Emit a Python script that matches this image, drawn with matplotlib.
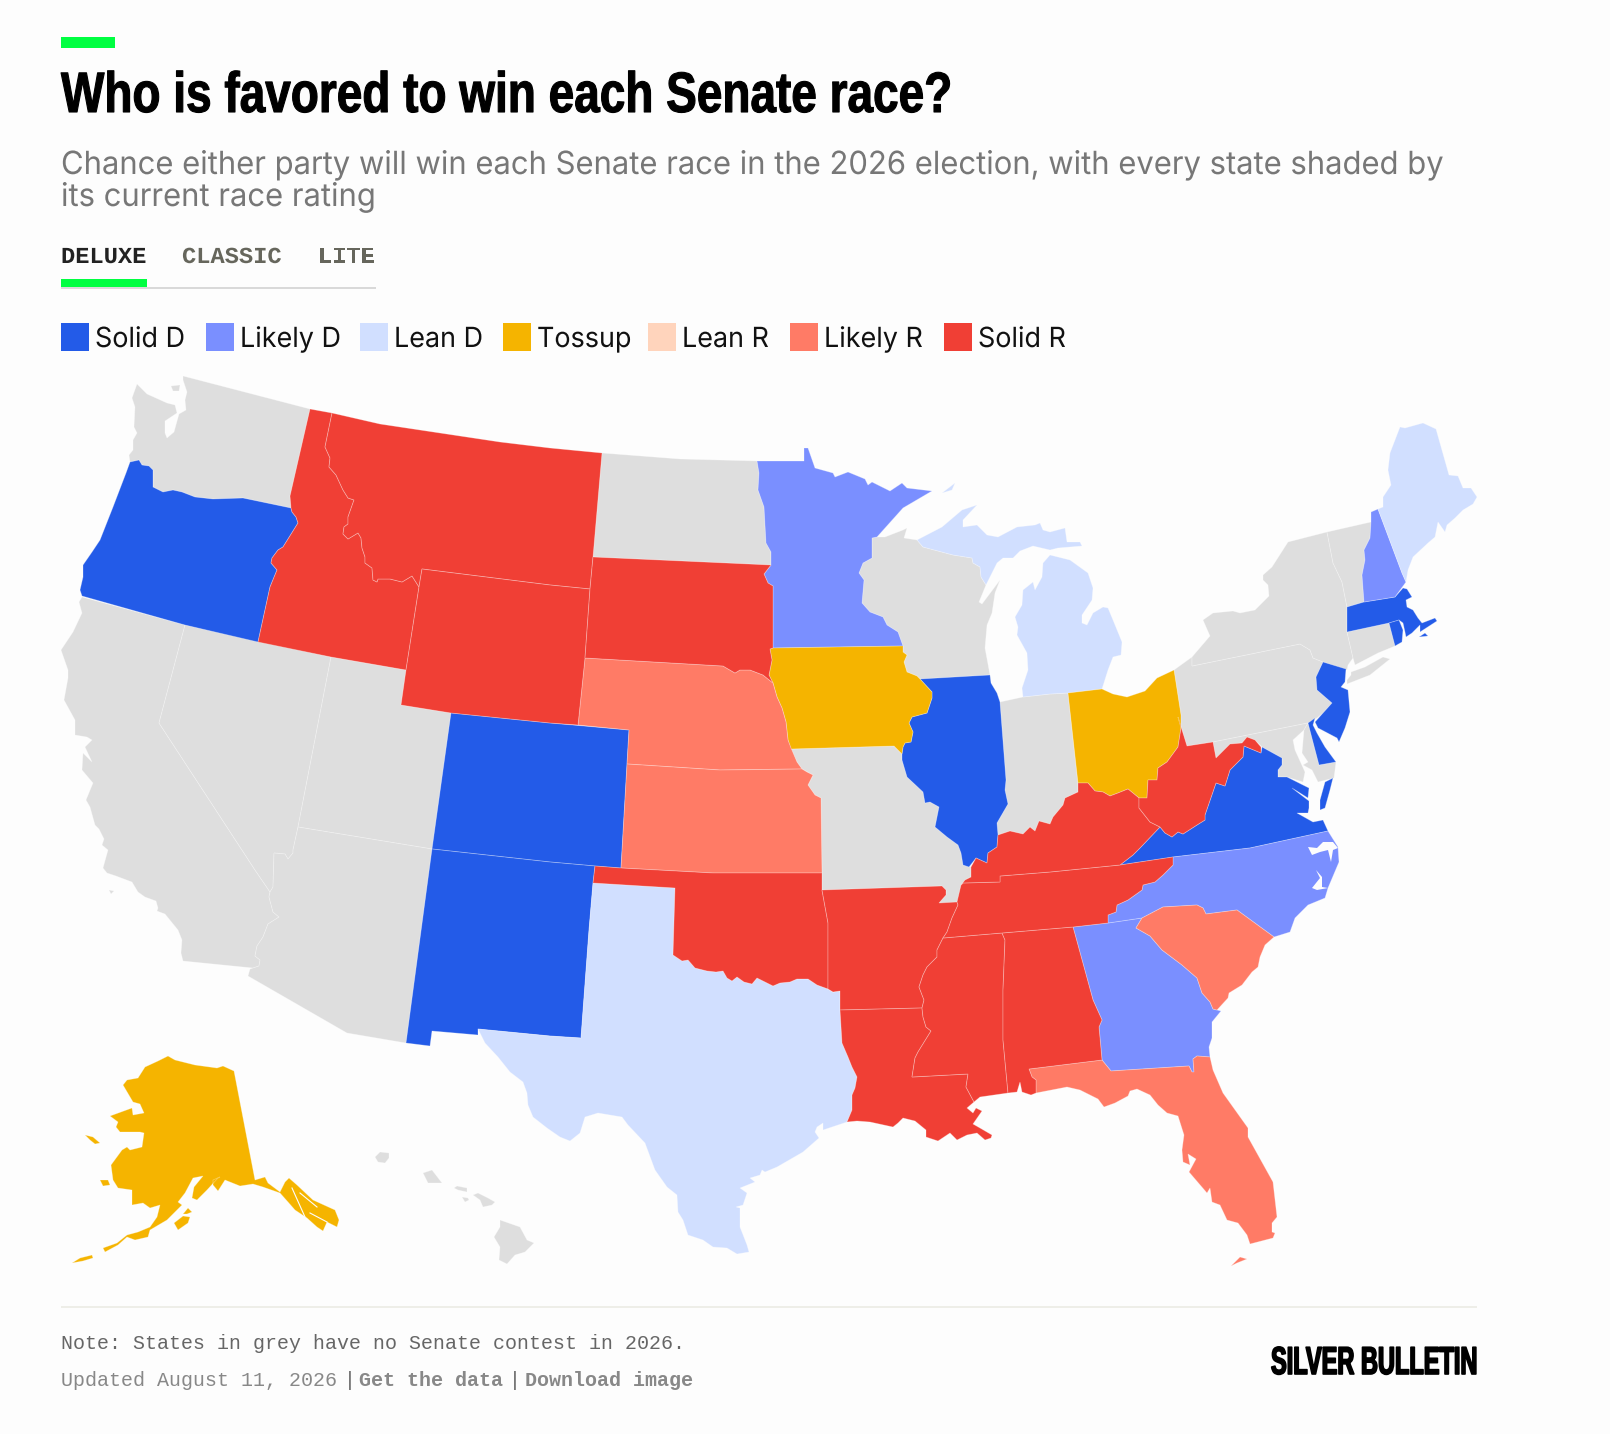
from matplotlib import pyplot as plt
from matplotlib.patches import Rectangle
from matplotlib.patheffects import AbstractPathEffect
from matplotlib.transforms import Affine2D

# rating categories for the legend
ratings = ["Solid D", "Likely D", "Lean D", "Tossup", "Lean R", "Likely R", "Solid R"]
rating_colors = ["#235BE8", "#7A8FFF", "#D1DFFF", "#F5B400", "#FFD4BC", "#FF7B66", "#F03F35"]
no_race_color = "#DEDEDE"
page_color = "#FDFDFD"

# state outlines, one list per island/part
WA = [[(183,376),(310,409),(290,496),(291,508),(243,498),(213,499),(195,497),(182,492),(173,490),(163,492),(153,487),(153,470),(149,466),(142,465),(139,460),(130,462),(129,455),(133,450),(133,440),(137,433),(134,427),(135,407),(132,398),(137,384),(147,394),(167,403),(175,405),(177,413),(165,421),(165,433),(167,438),(174,432),(179,414),(186,410),(185,400),(187,392),(183,380)],
      [(171,386),(180,385),(179,391),(173,391)]]
OR = [[(130,462),(126,473),(113,507),(100,540),(92,552),(83,565),(83,577),(80,590),(82,596),(185,625),(258,642),(270,587),(277,570),(271,563),(272,558),(278,550),(283,547),(298,523),(296,517),(292,512),(291,508),(243,498),(213,499),(195,497),(182,492),(173,490),(163,492),(153,487),(153,470),(149,466),(142,465),(139,460)]]
CA = [[(82,597),(185,625),(159,723),(255,870),(270,892),(269,897),(273,912),(279,917),(268,924),(263,937),(257,946),(255,956),(260,960),(259,966),(253,968),(183,961),(181,953),(182,940),(178,930),(165,914),(157,911),(158,908),(156,901),(145,897),(138,892),(132,882),(116,876),(107,873),(103,868),(108,850),(102,845),(104,839),(99,829),(95,825),(90,807),(86,800),(93,783),(82,770),(83,753),(92,762),(85,747),(92,740),(87,737),(75,735),(75,720),(64,700),(68,678),(68,670),(61,650),(73,632),(82,613),(79,602)],
      [(109,890),(114,891),(111,894)]]
NV = [[(185,625),(331,657),(298,827),(293,850),(293,853),(288,859),(285,854),(274,853),(273,887),(270,892),(255,870),(159,723)]]
ID = [[(310,409),(332,413),(325,447),(330,458),(329,467),(336,475),(343,490),(348,498),(354,500),(348,517),(348,524),(344,527),(343,534),(348,539),(358,533),(361,538),(362,548),(365,557),(365,563),(372,568),(373,580),(377,582),(378,579),(390,579),(402,582),(412,576),(419,587),(406,670),(331,657),(258,642),(270,587),(277,570),(271,563),(272,558),(278,550),(283,547),(298,523),(296,517),(292,512),(291,508),(290,496)]]
MT = [[(332,413),(380,424),(440,433),(500,442),(550,448),(602,453),(593,557),(590,589),(550,585),(422,569),(419,587),(412,576),(402,582),(390,579),(378,579),(377,582),(373,580),(372,568),(365,563),(365,557),(362,548),(361,538),(358,533),(348,539),(343,534),(344,527),(348,524),(348,517),(354,500),(348,498),(343,490),(336,475),(329,467),(330,458),(325,447)]]
WY = [[(422,569),(550,585),(590,589),(585,658),(578,725),(550,723),(451,713),(401,705),(406,670),(419,587)]]
UT = [[(331,657),(406,670),(401,705),(451,713),(432,849),(298,827)]]
AZ = [[(298,827),(432,849),(406,1043),(347,1033),(248,976),(250,969),(253,968),(259,966),(260,960),(255,956),(257,946),(263,937),(268,924),(279,917),(273,912),(269,897),(270,892),(273,887),(274,853),(285,854),(288,859),(293,853),(293,850)]]
CO = [[(451,713),(550,723),(629,730),(621,868),(595,866),(550,862),(432,849)]]
NM = [[(432,849),(550,862),(595,866),(593,883),(589,930),(581,1038),(550,1036),(478,1029),(478,1035),(432,1031),(430,1046),(406,1043)]]
ND = [[(602,453),(680,459),(757,461),(759,473),(758,490),(764,507),(766,543),(771,552),(771,565),(593,557)]]
SD = [[(593,557),(771,565),(764,574),(768,583),(773,586),(773,648),(770,649),(772,660),(769,675),(773,683),(763,675),(750,670),(740,670),(735,673),(723,666),(585,658),(590,589)]]
NE = [[(585,658),(723,666),(735,673),(740,670),(750,670),(763,675),(773,683),(777,697),(782,708),(786,722),(788,740),(791,748),(797,762),(802,769),(720,770),(627,764),(629,730),(578,725)]]
KS = [[(627,764),(720,770),(802,769),(807,772),(813,775),(808,785),(815,795),(821,798),(822,873),(713,873),(621,868)]]
OK = [[(595,866),(621,868),(713,873),(822,873),(822,890),(828,923),(828,989),(833,992),(840,991),(833,992),(828,989),(817,985),(808,979),(797,979),(790,982),(780,983),(773,986),(767,983),(757,978),(752,984),(744,982),(737,977),(732,981),(727,978),(723,971),(716,972),(707,971),(695,968),(688,960),(682,961),(673,955),(675,888),(593,883)]]
TX = [[(478,1029),(550,1036),(581,1038),(589,930),(593,883),(675,888),(673,955),(682,961),(688,960),(695,968),(707,971),(716,972),(723,971),(727,978),(732,981),(737,977),(744,982),(752,984),(757,978),(767,983),(773,986),(780,983),(790,982),(797,979),(808,979),(817,985),(828,989),(833,992),(840,991),(840,1010),(842,1043),(848,1057),(852,1067),(857,1077),(855,1088),(852,1095),(852,1110),(847,1122),(823,1130),(823,1123),(817,1127),(815,1132),(819,1138),(803,1152),(777,1167),(765,1172),(762,1170),(760,1175),(750,1178),(755,1182),(740,1188),(747,1193),(743,1205),(736,1207),(740,1208),(740,1227),(747,1245),(749,1252),(737,1254),(727,1248),(713,1247),(703,1240),(688,1235),(683,1220),(678,1212),(677,1195),(667,1187),(655,1170),(645,1143),(628,1125),(622,1117),(598,1113),(585,1117),(580,1133),(570,1141),(560,1137),(547,1128),(533,1117),(528,1105),(527,1093),(523,1082),(510,1072),(498,1057),(485,1043)]]
MN = [[(757,461),(804,461),(804,448),(808,448),(815,468),(833,473),(835,477),(848,472),(865,479),(868,485),(872,482),(890,491),(902,483),(907,488),(932,491),(903,508),(877,537),(872,538),(872,558),(863,563),(859,573),(864,580),(862,603),(870,612),(883,617),(887,625),(898,632),(903,646),(773,648),(773,586),(768,583),(764,574),(771,565),(771,552),(766,543),(764,507),(758,490),(759,473)]]
IA = [[(770,649),(773,648),(903,646),(903,652),(907,655),(904,662),(907,672),(917,676),(920,679),(932,692),(932,698),(927,713),(912,717),(909,723),(913,732),(911,742),(905,743),(903,747),(902,754),(894,746),(791,749),(788,740),(786,722),(782,708),(777,697),(773,683),(769,675),(772,660)]]
MO = [[(791,749),(894,746),(902,754),(902,760),(907,777),(923,792),(925,803),(930,802),(939,807),(935,827),(947,837),(958,845),(961,853),(963,865),(971,867),(971,877),(965,880),(961,885),(957,903),(939,903),(946,895),(946,890),(942,886),(822,890),(822,873),(821,798),(815,795),(808,785),(813,775),(802,769),(797,762)]]
AR = [[(822,890),(942,886),(946,890),(946,895),(939,903),(957,902),(958,905),(952,918),(947,932),(943,938),(937,950),(937,957),(927,967),(923,975),(919,987),(924,1000),(922,1008),(840,1010),(840,991),(833,992),(828,989),(828,923)]]
LA = [[(840,1010),(922,1008),(923,1017),(926,1027),(931,1031),(918,1052),(915,1058),(912,1077),(968,1074),(966,1087),(974,1102),(967,1108),(973,1113),(976,1108),(982,1111),(973,1124),(980,1128),(992,1135),(991,1138),(985,1140),(977,1133),(967,1135),(957,1140),(950,1133),(938,1141),(926,1137),(926,1130),(915,1121),(903,1118),(898,1123),(893,1127),(870,1122),(857,1121),(847,1122),(852,1110),(852,1095),(855,1088),(857,1077),(852,1067),(848,1057),(842,1043)]]
WI = [[(872,538),(877,537),(885,537),(903,530),(907,528),(904,538),(917,540),(923,547),(953,555),(972,558),(973,563),(980,567),(981,577),(986,585),(979,602),(982,604),(1000,580),(995,593),(992,613),(987,625),(985,648),(990,675),(920,679),(917,676),(907,672),(904,662),(907,655),(903,652),(903,646),(898,632),(887,625),(883,617),(870,612),(862,603),(864,580),(859,573),(863,563),(872,558)]]
MI = [[(917,540),(923,547),(953,555),(972,558),(973,563),(980,567),(981,577),(986,585),(997,563),(1003,558),(1013,558),(1020,551),(1033,546),(1050,550),(1058,548),(1082,546),(1080,542),(1067,542),(1065,528),(1050,532),(1043,530),(1040,523),(1035,525),(1017,527),(998,537),(987,535),(977,525),(963,527),(963,520),(977,505),(962,510),(942,527)],
      [(1050,555),(1070,560),(1088,573),(1093,588),(1092,600),(1082,615),(1082,623),(1087,625),(1093,613),(1103,607),(1108,608),(1113,620),(1122,642),(1121,655),(1113,657),(1108,670),(1102,689),(1068,693),(1050,694),(1023,697),(1022,688),(1028,670),(1027,653),(1017,635),(1018,627),(1015,617),(1022,605),(1023,590),(1033,582),(1035,590),(1042,577),(1043,563)],
      [(942,493),(955,483),(952,490)]]
IL = [[(920,679),(990,675),(991,683),(997,693),(1000,702),(1006,780),(1005,790),(1008,804),(997,823),(998,835),(997,847),(988,853),(987,863),(976,858),(969,867),(963,865),(961,853),(958,845),(947,837),(935,827),(939,807),(930,802),(925,803),(923,792),(907,777),(902,760),(902,754),(903,747),(905,743),(911,742),(913,732),(909,723),(912,717),(927,713),(932,698),(932,692)]]
IN = [[(1000,702),(1023,697),(1050,694),(1068,693),(1078,783),(1078,792),(1065,798),(1063,805),(1053,817),(1050,824),(1039,821),(1035,831),(1030,827),(1023,834),(1010,831),(998,835),(997,823),(1008,804),(1005,790),(1006,780)]]
OH = [[(1068,693),(1102,689),(1113,694),(1127,697),(1145,691),(1157,678),(1174,670),(1181,715),(1181,728),(1178,747),(1167,762),(1158,768),(1157,780),(1148,780),(1147,798),(1139,798),(1128,789),(1118,793),(1110,796),(1103,792),(1095,791),(1088,783),(1078,783)]]
KY = [[(961,885),(965,880),(971,877),(971,867),(976,858),(987,863),(988,853),(997,847),(998,835),(1010,831),(1023,834),(1030,827),(1035,831),(1039,821),(1050,824),(1053,817),(1063,805),(1065,798),(1078,792),(1078,783),(1088,783),(1095,791),(1103,792),(1110,796),(1118,793),(1128,789),(1139,798),(1139,808),(1150,822),(1160,827),(1140,848),(1133,855),(1120,865),(1050,872),(1000,876),(1000,882),(963,883)]]
TN = [[(961,885),(963,883),(1000,882),(1000,876),(1050,872),(1120,865),(1173,857),(1173,865),(1163,875),(1155,882),(1143,885),(1142,890),(1128,900),(1117,905),(1116,912),(1108,915),(1108,923),(1073,927),(1002,933),(943,938),(947,932),(952,918),(958,905),(957,902)]]
MS = [[(943,938),(1002,933),(1005,940),(1003,990),(1003,1040),(1008,1093),(980,1097),(974,1102),(966,1087),(968,1074),(912,1077),(915,1058),(918,1052),(931,1031),(926,1027),(923,1017),(922,1008),(924,1000),(919,987),(923,975),(927,967),(937,957),(937,950)]]
AL = [[(1002,933),(1073,927),(1093,1000),(1102,1020),(1099,1027),(1102,1060),(1029,1069),(1032,1077),(1036,1080),(1036,1093),(1031,1095),(1022,1092),(1020,1082),(1017,1092),(1008,1093),(1003,1040),(1003,990),(1005,940)]]
FL = [[(1029,1069),(1102,1060),(1111,1071),(1189,1066),(1192,1072),(1194,1072),(1193,1059),(1197,1056),(1210,1057),(1213,1070),(1223,1093),(1248,1128),(1248,1137),(1273,1182),(1277,1217),(1272,1223),(1272,1232),(1275,1233),(1273,1238),(1250,1244),(1247,1235),(1238,1223),(1227,1220),(1220,1205),(1212,1202),(1210,1188),(1207,1193),(1189,1172),(1196,1159),(1188,1154),(1190,1165),(1183,1162),(1182,1150),(1184,1135),(1178,1116),(1167,1113),(1158,1105),(1150,1095),(1137,1089),(1130,1091),(1128,1096),(1115,1103),(1104,1107),(1098,1099),(1080,1090),(1067,1087),(1036,1093),(1036,1080),(1032,1077)],
      [(1231,1266),(1240,1257),(1247,1259),(1237,1263)]]
GA = [[(1073,927),(1108,923),(1142,918),(1136,928),(1150,936),(1162,950),(1182,965),(1197,978),(1202,993),(1210,1002),(1213,1009),(1221,1011),(1212,1022),(1212,1038),(1209,1047),(1210,1057),(1197,1056),(1193,1059),(1194,1072),(1192,1072),(1189,1066),(1111,1071),(1102,1060),(1099,1027),(1102,1020),(1093,1000)]]
SC = [[(1142,918),(1163,907),(1197,905),(1203,908),(1206,914),(1237,910),(1274,937),(1265,945),(1260,957),(1258,967),(1252,972),(1242,985),(1229,993),(1228,998),(1217,1010),(1213,1009),(1210,1002),(1202,993),(1197,978),(1182,965),(1162,950),(1150,936),(1136,928)]]
NC = [[(1173,857),(1250,848),(1328,831),(1338,847),(1339,862),(1328,888),(1325,898),(1308,905),(1295,918),(1290,932),(1274,937),(1237,910),(1206,914),(1203,908),(1197,905),(1163,907),(1142,918),(1108,923),(1108,915),(1116,912),(1117,905),(1128,900),(1142,890),(1143,885),(1155,882),(1163,875),(1173,865)]]
VA = [[(1120,865),(1133,855),(1140,848),(1160,827),(1165,833),(1172,837),(1178,832),(1183,834),(1197,825),(1205,820),(1205,815),(1216,783),(1225,786),(1230,770),(1243,757),(1244,746),(1261,753),(1262,747),(1282,758),(1282,765),(1278,770),(1278,777),(1287,777),(1309,788),(1308,798),(1292,788),(1309,801),(1309,808),(1308,813),(1297,813),(1313,822),(1323,820),(1328,831),(1250,848),(1173,857)],
      [(1333,778),(1325,782),(1320,800),(1320,810),(1325,808),(1330,790)]]
WV = [[(1178,717),(1187,746),(1213,742),(1216,758),(1230,744),(1242,743),(1247,737),(1255,740),(1261,747),(1261,753),(1244,746),(1243,757),(1230,770),(1225,786),(1216,783),(1205,815),(1205,820),(1197,825),(1183,834),(1178,832),(1172,837),(1165,833),(1160,827),(1150,822),(1139,808),(1139,798),(1147,798),(1148,780),(1157,780),(1158,768),(1167,762),(1178,747),(1181,728)]]
PA = [[(1174,670),(1192,657),(1192,666),(1300,644),(1310,650),(1313,658),(1323,662),(1316,677),(1317,690),(1332,703),(1323,713),(1317,718),(1308,723),(1213,742),(1187,746),(1178,717),(1181,715)]]
NY = [[(1192,657),(1210,636),(1203,620),(1213,613),(1233,611),(1240,613),(1255,610),(1269,596),(1268,585),(1263,580),(1263,575),(1272,567),(1288,542),(1327,532),(1333,563),(1342,582),(1347,607),(1347,632),(1353,658),(1348,665),(1347,670),(1323,662),(1313,658),(1310,650),(1300,644),(1192,666)],
      [(1347,684),(1370,675),(1390,659),(1383,657),(1365,667),(1351,672),(1351,675),(1347,680)]]
VT = [[(1327,532),(1371,522),(1370,538),(1364,550),(1365,560),(1362,575),(1364,602),(1347,607),(1342,582),(1333,563)]]
NH = [[(1371,522),(1371,512),(1378,509),(1402,573),(1406,582),(1395,597),(1364,602),(1362,575),(1365,560),(1364,550),(1370,538)]]
ME = [[(1378,509),(1383,507),(1383,497),(1391,485),(1388,470),(1390,453),(1400,427),(1405,428),(1423,423),(1436,429),(1449,475),(1458,476),(1463,488),(1471,488),(1477,497),(1473,504),(1463,510),(1455,518),(1447,525),(1445,532),(1438,522),(1435,537),(1428,543),(1413,557),(1408,570),(1406,582),(1402,573)]]
MA = [[(1347,607),(1364,602),(1395,597),(1403,588),(1407,589),(1412,597),(1406,600),(1407,607),(1413,610),(1418,618),(1422,623),(1435,618),(1437,621),(1420,632),(1420,625),(1412,633),(1406,637),(1405,632),(1403,623),(1399,620),(1389,623),(1347,632)],
      [(1419,637),(1425,633),(1428,636)]]
RI = [[(1389,623),(1399,620),(1403,630),(1402,642),(1395,646)]]
CT = [[(1347,632),(1389,623),(1395,646),(1378,653),(1355,665),(1353,658)]]
NJ = [[(1323,662),(1346,669),(1345,682),(1341,687),(1348,690),(1350,712),(1345,728),(1339,742),(1337,738),(1318,728),(1315,722),(1323,713),(1332,703),(1317,690),(1316,677)]]
DE = [[(1308,723),(1315,718),(1313,725),(1317,733),(1325,747),(1336,762),(1319,765)]]
MD = [[(1213,742),(1308,723),(1304,730),(1293,740),(1295,750),(1305,772),(1303,782),(1287,777),(1278,777),(1278,770),(1282,765),(1282,758),(1262,747),(1255,740),(1247,737),(1242,743),(1230,744),(1216,758)],
      [(1304,730),(1308,723),(1319,765),(1336,762),(1334,778),(1318,782),(1312,770),(1303,765),(1308,762),(1302,753)]]
AK = [[(234,1071),(255,1180),(265,1177),(268,1183),(280,1192),(285,1182),(289,1178),(297,1185),(313,1200),(335,1210),(339,1220),(337,1227),(327,1222),(323,1231),(317,1227),(307,1218),(295,1210),(288,1202),(280,1193),(263,1187),(253,1184),(240,1186),(225,1180),(218,1191),(213,1185),(213,1180),(220,1177),(218,1178),(207,1190),(197,1200),(192,1198),(194,1187),(203,1176),(193,1178),(185,1193),(178,1202),(182,1205),(167,1220),(150,1230),(148,1237),(135,1240),(127,1237),(118,1245),(105,1252),(103,1248),(117,1243),(127,1235),(138,1232),(150,1227),(157,1217),(160,1205),(150,1208),(143,1203),(132,1205),(132,1190),(118,1188),(113,1180),(111,1165),(122,1150),(127,1147),(130,1150),(142,1147),(144,1133),(140,1132),(120,1132),(116,1127),(118,1122),(110,1116),(132,1108),(133,1115),(144,1113),(140,1104),(133,1102),(123,1085),(127,1080),(138,1078),(145,1067),(158,1061),(168,1056),(175,1060),(187,1063),(195,1065),(217,1068),(223,1066)],
      [(174,1223),(183,1216),(190,1217),(188,1223),(178,1230)],
      [(183,1214),(188,1208),(192,1212),(187,1214)],
      [(85,1135),(93,1137),(100,1143),(95,1144),(90,1140)],
      [(100,1180),(108,1180),(110,1185),(103,1186)],
      [(72,1263),(80,1258),(92,1255),(93,1258),(83,1261)]]
HI = [[(375,1157),(380,1152),(389,1153),(389,1158),(385,1163),(378,1162)],
      [(423,1173),(432,1170),(442,1183),(428,1183)],
      [(454,1188),(457,1186),(467,1188),(467,1192),(458,1190)],
      [(462,1197),(468,1198),(469,1200),(465,1202)],
      [(473,1195),(478,1193),(488,1198),(495,1202),(492,1205),(483,1207),(480,1200)],
      [(500,1220),(520,1227),(527,1240),(534,1243),(525,1252),(515,1255),(507,1264),(499,1260),(500,1247),(494,1237),(500,1227)]]

# sounds and channels that cut into the states
water_shapes = [[(1308,847),(1312,855),(1320,852),(1328,850),(1331,862),(1333,850),(1338,848),(1333,842),(1323,842),(1317,848)],
                [(1316,870),(1320,878),(1312,888),(1317,890),(1328,888),(1322,887),(1322,877)]]
water_lines = [[(292,1188),(305,1217)],[(300,1193),(317,1207)],[(310,1213),(327,1222)]]

# race rating of each state, None = no contest in 2026
state_rating = {"WA": None, "CA": None, "NV": None, "UT": None, "AZ": None, "ND": None, "MO": None,
                "WI": None, "IN": None, "PA": None, "NY": None, "VT": None, "CT": None, "MD": None, "HI": None,
                "OR": "Solid D", "CO": "Solid D", "NM": "Solid D", "IL": "Solid D", "VA": "Solid D",
                "NJ": "Solid D", "DE": "Solid D", "MA": "Solid D", "RI": "Solid D",
                "MN": "Likely D", "GA": "Likely D", "NC": "Likely D", "NH": "Likely D",
                "TX": "Lean D", "MI": "Lean D", "ME": "Lean D",
                "IA": "Tossup", "OH": "Tossup", "AK": "Tossup",
                "NE": "Likely R", "KS": "Likely R", "SC": "Likely R", "FL": "Likely R",
                "ID": "Solid R", "MT": "Solid R", "WY": "Solid R", "SD": "Solid R", "OK": "Solid R",
                "AR": "Solid R", "LA": "Solid R", "MS": "Solid R", "AL": "Solid R", "TN": "Solid R",
                "KY": "Solid R", "WV": "Solid R"}

title_text = "Who is favored to win each Senate race?"
subtitle_lines = ["Chance either party will win each Senate race in the 2026 election, with every state shaded by",
                  "its current race rating"]
tab_names = ["DELUXE", "CLASSIC", "LITE"]
note_text = "Note: States in grey have no Senate contest in 2026."
updated_text = "Updated August 11, 2026"


# no condensed font here, so squeeze the glyphs sideways when the text is drawn
class Squeeze(AbstractPathEffect):
    def __init__(self, sx, weight=0):
        super().__init__()
        self.sx = sx
        self.weight = weight

    def draw_path(self, renderer, gc, tpath, affine, rgbFace):
        gc0 = renderer.new_gc()
        gc0.copy_properties(gc)
        if self.weight:
            gc0.set_linewidth(self.weight)
            gc0.set_foreground(rgbFace)
        else:
            gc0.set_linewidth(0)
        renderer.draw_path(gc0, tpath, Affine2D().scale(self.sx, 1) + affine, rgbFace)
        gc0.restore()


fig = plt.figure(figsize=(16.1, 14.34), dpi=100, facecolor=page_color)
ax = fig.add_axes([0, 0, 1, 1])
ax.set_xlim(0, 1610)
ax.set_ylim(1434, 0)
ax.axis("off")

# map
color_of = dict(zip(ratings, rating_colors))
for name, rating in state_rating.items():
    color = color_of.get(rating, no_race_color)
    for ring in globals()[name]:
        xs = [p[0] for p in ring]
        ys = [p[1] for p in ring]
        ax.fill(xs, ys, facecolor=color, edgecolor=(1, 1, 1, 0.3), linewidth=0.6, zorder=2)
for ring in water_shapes:
    ax.fill([p[0] for p in ring], [p[1] for p in ring], facecolor=page_color, edgecolor="none", zorder=3)
for line in water_lines:
    ax.plot([p[0] for p in line], [p[1] for p in line], color=page_color, linewidth=0.8, zorder=3)

sans = "Liberation Sans"
mono = ["Liberation Mono", "DejaVu Sans Mono"]

# header
ax.add_patch(Rectangle((61, 37), 54, 11, facecolor="#00FF41", edgecolor="none"))
ax.text(61, 112, title_text, family=sans, fontweight="bold", fontsize=41, color="#000000",
        path_effects=[Squeeze(0.807, 0.8)])
ax.text(61, 174, subtitle_lines[0], family="Inter", fontsize=23, color="#777777", path_effects=[Squeeze(0.97)])
ax.text(61, 206, subtitle_lines[1], family="Inter", fontsize=23, color="#777777", path_effects=[Squeeze(0.97)])

# tabs
tab_x = [61, 182, 318]
tab_colors = ["#222222", "#66665C", "#66665C"]
for x, label, c in zip(tab_x, tab_names, tab_colors):
    ax.text(x, 263, label, family=mono, fontweight="bold", fontsize=16.5, color=c, path_effects=[Squeeze(1.035)])
ax.add_patch(Rectangle((61, 287), 315, 2, facecolor="#D9D9D9", edgecolor="none"))
ax.add_patch(Rectangle((61, 279), 86, 8, facecolor="#00FF41", edgecolor="none"))

# legend
swatch_x = [61, 206, 360, 503, 648, 790, 944]
for x, label, c in zip(swatch_x, ratings, rating_colors):
    ax.add_patch(Rectangle((x, 323), 28, 28, facecolor=c, edgecolor="none"))
    ax.text(x + 34, 347, label, family="Inter", fontsize=20, color="#111111", path_effects=[Squeeze(0.97)])

# footer
ax.add_patch(Rectangle((61, 1306), 1416, 2, facecolor="#EEEEE8", edgecolor="none"))
ax.text(61, 1349, note_text, family=mono, fontsize=14.4, color="#666666")
ax.text(61, 1386, updated_text, family=mono, fontsize=14.4, color="#888888")
ax.text(344, 1386, "|", family=mono, fontsize=14.4, color="#666666")
ax.text(359, 1386, "Get the data", family=mono, fontweight="bold", fontsize=14.4, color="#888888")
ax.text(509, 1386, "|", family=mono, fontsize=14.4, color="#666666")
ax.text(525, 1386, "Download image", family=mono, fontweight="bold", fontsize=14.4, color="#888888")
ax.text(1271, 1374, "SILVER BULLETIN", family=sans, fontweight="bold", fontsize=28, color="#000000",
        path_effects=[Squeeze(0.606, 1.2)])

fig.savefig("out.png", dpi=100, facecolor=page_color)
